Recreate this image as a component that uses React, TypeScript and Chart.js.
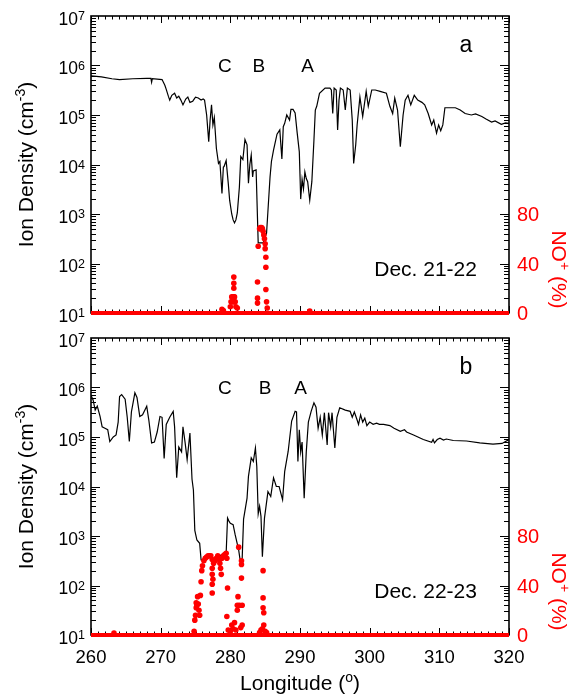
import React, { useEffect, useRef } from "react";
import { Chart, registerables } from "chart.js";

Chart.register(...registerables);

const FONT = "'Liberation Sans', Arial, Helvetica, sans-serif";
const RED = "#ff0000";

// ---------- Panel a : Dec. 21-22 ----------
const lonA = [
  260.0, 261.5, 263.0, 264.1, 266.0, 268.0, 268.6, 268.7, 268.8, 270.2,
  270.6, 270.8, 271.1, 271.3, 271.6, 272.0, 272.3, 272.6, 272.9, 273.2,
  273.6, 273.9, 274.2, 274.6, 275.0, 275.4, 275.8, 276.1, 276.3, 276.6,
  276.9, 277.1, 277.3, 277.5, 277.7, 278.0, 278.3, 278.5, 278.8, 279.0,
  279.1, 279.4, 279.7, 279.9, 280.2, 280.4, 280.6, 280.8, 281.0, 281.3,
  281.5, 281.8, 282.1, 282.4, 282.6, 282.8, 283.0, 283.2, 283.3, 283.7,
  283.8, 284.0, 284.7, 285.2, 285.7, 285.9, 286.2, 286.7, 287.1, 287.4,
  287.6, 287.8, 288.1, 288.5, 288.7, 289.0, 289.3, 289.6, 289.9, 290.1,
  290.3, 290.5, 290.7, 290.9, 291.1, 291.4, 291.7, 292.0, 292.2, 292.4,
  292.8, 293.6, 294.3, 294.5, 294.7, 294.9, 295.2, 295.4, 295.6, 295.8,
  296.2, 296.5, 296.8, 297.2, 297.5, 297.7, 298.0, 298.2, 298.6, 299.0,
  299.5, 299.8, 300.3, 300.8, 301.5, 302.4, 302.9, 303.3, 303.6, 304.0,
  304.4, 304.8, 305.1, 305.5, 305.9, 306.4, 306.9, 307.5, 307.9, 308.4,
  308.9, 309.2, 309.6, 309.9, 310.2, 310.5, 310.8, 312.3, 313.0, 313.7,
  314.6, 315.2, 316.1, 316.7, 317.5, 318.0, 318.9, 319.5, 320.0,
];
const densityA = [
  6.2e5, 5.9e5, 5.4e5, 5.2e5, 5.4e5, 5.5e5, 5.5e5, 4.6e5, 5.4e5, 5.2e5,
  4.0e5, 3.3e5, 2.4e5, 2.0e5, 2.5e5, 2.75e5, 2.2e5, 2.4e5, 2.0e5, 1.6e5,
  2.1e5, 2.3e5, 1.8e5, 1.9e5, 2.3e5, 2.2e5, 2.0e5, 2.1e5, 2.0e5, 1.0e5,
  2.9e4, 7.9e4, 1.6e5, 6.3e4, 8.9e4, 2.1e4, 1.05e4, 1.15e4, 2.6e3, 8.9e3,
  9.1e3, 1.2e4, 4.2e3, 1.9e3, 1.0e3, 7.6e2, 6.6e2, 7.6e2, 1.05e3, 3.5e3,
  1.45e4, 1.26e4, 3.2e4, 2.5e4, 4.2e3, 1.0e4, 1.55e4, 5.6e3, 7.4e3, 7.8e3,
  7.8e3, 2.6e2, 2.6e2, 4.1e2, 5.6e3, 1.15e4, 1.95e4, 4.1e4, 5.0e4, 1.3e4,
  5.8e4, 6.8e4, 1.0e5, 7.9e4, 1.3e5, 1.3e5, 1.1e5, 4.3e4, 1.8e4, 2.0e3,
  5.0e3, 3.2e3, 7.1e3, 5.2e3, 4.5e3, 1.9e3, 4.5e3, 3.1e4, 1.26e5, 1.5e5,
  2.75e5, 3.5e5, 3.5e5, 3.2e5, 1.07e5, 3.5e5, 3.2e5, 5.0e4, 2.0e5, 3.5e5,
  3.2e5, 1.26e5, 3.5e5, 3.2e5, 7.9e4, 1.05e4, 2.5e4, 6.3e4, 2.3e5, 9.3e4,
  3.0e5, 1.5e5, 3.2e5, 3.2e5, 3.0e5, 2.75e5, 1.5e5, 1.07e5, 2.2e5, 1.26e5,
  2.3e4, 1.0e5, 2.0e5, 2.5e5, 1.6e5, 2.5e5, 2.0e5, 1.8e5, 1.6e5, 1.07e5,
  6.3e4, 7.9e4, 4.3e4, 6.3e4, 4.8e4, 6.3e4, 1.4e5, 1.4e5, 1.26e5, 1.07e5,
  1.0e5, 1.05e5, 9.3e4, 8.3e4, 7.2e4, 7.6e4, 6.5e4, 6.9e4, 6.8e4,
];
const noLonA = [
  278.8, 279.0, 280.0, 280.1, 280.2, 280.3, 280.4, 280.5, 280.5, 280.5,
  280.5, 280.6, 280.6, 280.7, 280.8, 281.0, 283.9, 283.9, 283.9, 284.0,
  284.2, 284.3, 284.5, 284.6, 284.7, 284.8, 284.9, 285.0, 285.0, 285.1,
  285.1, 285.1, 285.2, 285.3, 291.4,
];
const noPctA = [
  3, 2, 5, 9, 13, 9, 13, 29, 24, 20,
  13, 9, 13, 9, 5, 4, 8, 12, 25, 54,
  68, 69, 69, 68, 66, 63, 60, 56, 52, 45,
  37, 19, 9, 4, 1.5,
];

// ---------- Panel b : Dec. 22-23 ----------
const lonB = [
  260.0, 260.3, 260.6, 260.9, 261.3, 261.6, 262.0, 262.4, 262.7, 263.2,
  263.6, 263.9, 264.1, 264.4, 264.9, 265.2, 265.5, 265.8, 266.3, 266.6,
  267.0, 267.4, 268.0, 268.3, 268.7, 269.1, 269.5, 269.9, 270.2, 270.5,
  270.8, 271.3, 271.8, 272.0, 272.3, 272.6, 273.0, 273.2, 273.5, 273.8,
  274.2, 274.5, 274.7, 274.9, 275.2, 275.6, 275.8, 276.3, 277.0, 277.5,
  277.8, 278.3, 278.8, 279.4, 279.6, 279.8, 280.0, 280.4, 280.7, 281.2,
  281.4, 281.7, 281.9, 282.4, 282.6, 283.0, 283.3, 283.6, 283.8, 284.0,
  284.2, 284.4, 284.6, 284.9, 285.4, 285.8, 286.2, 286.6, 287.0, 287.5,
  287.8, 288.3, 288.8, 289.3, 289.5, 289.7, 289.9, 290.1, 290.3, 290.6,
  290.9, 291.2, 291.6, 292.0, 292.3, 292.6, 292.9, 293.2, 293.5, 293.9,
  294.1, 294.4, 294.6, 295.0, 295.3, 295.7, 296.5, 297.2, 297.5, 297.8,
  298.2, 298.4, 298.7, 299.0, 299.3, 299.6, 300.0, 300.5, 301.0, 301.4,
  302.0, 302.9, 303.5, 304.4, 305.0, 305.3, 306.3, 307.7, 308.9, 309.1,
  309.3, 309.7, 310.1, 310.6, 311.0, 312.0, 313.9, 315.8, 317.7, 319.0,
  320.0,
];
const densityB = [
  7.0e5, 5.6e5, 3.5e5, 4.2e5, 2.6e5, 1.6e5, 1.5e5, 1.4e5, 8.1e4, 1.0e5,
  1.1e5, 2.0e5, 6.6e5, 7.2e5, 5.8e5, 2.5e5, 8.1e4, 3.2e5, 7.8e5, 6.3e5,
  2.6e5, 2.8e5, 4.2e5, 2.2e5, 7.6e4, 7.9e4, 1.26e5, 2.6e5, 2.5e5, 3.7e4,
  1.8e5, 2.5e5, 3.3e5, 1.6e5, 1.5e4, 6.3e4, 5.0e4, 1.6e5, 7.9e4, 3.5e4,
  1.2e5, 1.4e4, 8.5e3, 1.3e3, 8.3e2, 7.1e2, 3.3e2, 3.3e2, 4.2e2, 3.5e2,
  3.2e2, 3.8e2, 4.2e2, 4.5e2, 2.3e3, 2.0e3, 1.8e3, 1.7e3, 1.05e3, 5.2e2,
  3.3e2, 3.5e2, 2.2e3, 5.8e3, 1.6e4, 3.8e4, 3.2e4, 6.0e4, 2.5e4, 2.8e3,
  4.0e3, 2.5e3, 3.8e2, 2.3e3, 7.9e3, 6.3e3, 1.5e4, 1.0e4, 1.0e4, 5.4e3,
  2.0e4, 5.1e4, 2.1e5, 3.3e5, 3.2e5, 3.2e4, 1.4e5, 5.0e4, 7.9e4, 5.8e3,
  5.0e4, 2.0e5, 3.3e5, 4.9e5, 4.0e5, 1.5e5, 2.5e5, 1.1e5, 3.1e5, 6.9e4,
  3.1e5, 1.6e5, 3.1e5, 6.0e4, 2.5e5, 3.9e5, 3.5e5, 3.3e5, 2.5e5, 3.2e5,
  2.2e5, 1.8e5, 2.8e5, 2.0e5, 2.4e5, 1.7e5, 2.0e5, 1.8e5, 1.9e5, 1.8e5,
  1.8e5, 1.7e5, 1.5e5, 1.3e5, 1.4e5, 1.26e5, 1.1e5, 8.9e4, 7.8e4, 8.9e4,
  7.6e4, 8.9e4, 9.5e4, 8.7e4, 9.1e4, 8.5e4, 8.3e4, 7.6e4, 7.2e4, 7.4e4,
  8.9e4,
];
const noLonB = [
  263.3, 274.8, 274.9, 275.0, 275.1, 275.1, 275.2, 275.3, 275.4, 275.5,
  275.6, 275.7, 275.8, 275.9, 276.0, 276.2, 276.4, 276.6, 276.8, 277.0,
  277.2, 277.4, 277.4, 277.4, 277.5, 277.4, 277.4, 277.6, 277.8, 278.0,
  278.2, 278.4, 278.5, 278.6, 278.7, 278.8, 279.0, 279.2, 279.4, 279.5,
  279.5, 279.6, 279.7, 280.0, 280.2, 280.4, 280.6, 280.8, 281.0, 281.0,
  281.1, 281.2, 281.3, 281.5, 281.6, 281.6, 281.6, 281.7, 281.7, 284.2,
  284.4, 284.6, 284.7, 284.7, 284.7, 284.8, 284.8, 285.0, 285.2,
];
const noPctB = [
  1.5, 3, 12, 16, 22, 26, 24, 31, 25, 20,
  16, 32, 43, 52, 56, 60, 62, 63, 64, 64,
  64, 61, 54, 49, 45, 41, 34, 58, 60, 62,
  64, 61, 58, 54, 49, 62, 64, 65, 66, 62,
  15, 38, 4, 3, 8, 5, 10, 4, 24, 20,
  31, 71, 24, 6, 60, 57, 46, 24, 8, 2,
  4, 5, 52, 30, 22, 18, 8, 3, 2,
];

// ---------- axes / labels ----------
const xTickValues = [260, 270, 280, 290, 300, 310, 320];
const densityTickExponents = [1, 2, 3, 4, 5, 6, 7];
const noTickValues = [0, 40, 80];
const regionNames = ["C", "B", "A"];
const regionLonA = [279.2, 284.1, 291.1];
const regionLonB = [279.2, 285.0, 290.1];
const baselineLon = [260, 320];
const baselinePct = [0, 0];

type Seg = { text: string; size: number; dy: number };

function segWidth(ctx: CanvasRenderingContext2D, segs: Seg[]) {
  let w = 0;
  for (const s of segs) {
    ctx.font = `${s.size}px ${FONT}`;
    w += ctx.measureText(s.text).width;
  }
  return w;
}

function drawRich(
  ctx: CanvasRenderingContext2D,
  segs: Seg[],
  x: number,
  y: number,
  align: "left" | "center" | "right"
) {
  const w = segWidth(ctx, segs);
  let cx = align === "center" ? x - w / 2 : align === "right" ? x - w : x;
  ctx.textAlign = "left";
  ctx.textBaseline = "alphabetic";
  for (const s of segs) {
    ctx.font = `${s.size}px ${FONT}`;
    ctx.fillText(s.text, cx, y + s.dy);
    cx += ctx.measureText(s.text).width;
  }
}

const framePlugin = {
  id: "frame",
  beforeDatasetsDraw(chart: any) {
    const { ctx, chartArea: a, scales } = chart;
    const xs = scales.x;
    const ys = scales.y;
    const y2 = scales.y2;
    ctx.save();
    ctx.strokeStyle = "#000";
    ctx.lineWidth = 1;
    ctx.beginPath();
    for (let v = 260; v <= 320; v += 1) {
      const px = Math.round(xs.getPixelForValue(v)) + 0.5;
      const len = v % 10 === 0 ? 7 : 3.5;
      ctx.moveTo(px, a.bottom);
      ctx.lineTo(px, a.bottom - len);
      ctx.moveTo(px, a.top);
      ctx.lineTo(px, a.top + len);
    }
    for (let d = 1; d < 7; d++) {
      for (let m = 1; m <= 9; m++) {
        const py = Math.round(ys.getPixelForValue(m * Math.pow(10, d))) + 0.5;
        const len = m === 1 ? 9 : 5;
        ctx.moveTo(a.left, py);
        ctx.lineTo(a.left + len, py);
        ctx.moveTo(a.right, py);
        ctx.lineTo(a.right - len, py);
      }
    }
    for (const v of noTickValues) {
      const py = Math.round(y2.getPixelForValue(v)) + 0.5;
      ctx.moveTo(a.right, py);
      ctx.lineTo(a.right - 9, py);
    }
    ctx.stroke();
    ctx.lineWidth = 1.6;
    ctx.strokeRect(a.left, a.top, a.right - a.left, a.bottom - a.top);
    ctx.restore();
  },
};

type Spec = {
  lon: number[];
  dens: number[];
  noLon: number[];
  noPct: number[];
  regionLon: number[];
  letter: string;
  dates: string;
  showX: boolean;
  padTop: number;
  xAxisH: number;
};

function labelPlugin(spec: Spec) {
  return {
    id: "labels",
    afterDraw(chart: any) {
      const { ctx, chartArea: a, scales } = chart;
      const xs = scales.x;
      const ys = scales.y;
      const y2 = scales.y2;
      ctx.save();
      ctx.fillStyle = "#000";
      for (const e of densityTickExponents) {
        const py = ys.getPixelForValue(Math.pow(10, e));
        drawRich(
          ctx,
          [
            { text: "10", size: 17.5, dy: 8.5 },
            { text: String(e), size: 12.5, dy: 4 },
          ],
          a.left - 6,
          py,
          "right"
        );
      }
      ctx.fillStyle = RED;
      ctx.font = `20px ${FONT}`;
      ctx.textAlign = "left";
      ctx.textBaseline = "alphabetic";
      for (const v of noTickValues) {
        const py = y2.getPixelForValue(v);
        ctx.fillText(String(v), a.right + 8, py + 7);
      }
      ctx.save();
      ctx.translate(a.right + 50, (y2.getPixelForValue(0) + y2.getPixelForValue(80)) / 2 + 6);
      ctx.rotate(Math.PI / 2);
      drawRich(
        ctx,
        [
          { text: "NO", size: 21, dy: 0 },
          { text: "+", size: 14, dy: -8 },
          { text: " (%)", size: 21, dy: 0 },
        ],
        0,
        7.5,
        "center"
      );
      ctx.restore();
      ctx.fillStyle = "#000";
      ctx.save();
      ctx.translate(25, (a.top + a.bottom) / 2);
      ctx.rotate(-Math.PI / 2);
      drawRich(
        ctx,
        [
          { text: "Ion Density (cm", size: 21, dy: 0 },
          { text: "-3", size: 14, dy: -8 },
          { text: ")", size: 21, dy: 0 },
        ],
        0,
        7.5,
        "center"
      );
      ctx.restore();
      if (spec.showX) {
        ctx.font = `18.5px ${FONT}`;
        ctx.textAlign = "center";
        ctx.textBaseline = "alphabetic";
        for (const v of xTickValues) {
          ctx.fillText(String(v), xs.getPixelForValue(v), a.bottom + 28);
        }
        drawRich(
          ctx,
          [
            { text: "Longitude (", size: 21, dy: 0 },
            { text: "o", size: 14, dy: -8 },
            { text: ")", size: 21, dy: 0 },
          ],
          (a.left + a.right) / 2,
          a.bottom + 55,
          "center"
        );
      }
      ctx.font = `19px ${FONT}`;
      ctx.textAlign = "center";
      ctx.textBaseline = "middle";
      regionNames.forEach((n, i) => {
        ctx.fillText(n, xs.getPixelForValue(spec.regionLon[i]), a.top + 51);
      });
      ctx.font = `23px ${FONT}`;
      ctx.fillText(spec.letter, xs.getPixelForValue(313.8), a.top + 30);
      ctx.font = `21px ${FONT}`;
      ctx.textAlign = "right";
      ctx.fillText(spec.dates, xs.getPixelForValue(315.4), a.top + 254);
      ctx.restore();
    },
  };
}

function Panel({ spec, top, height }: { spec: Spec; top: number; height: number }) {
  const ref = useRef<HTMLCanvasElement>(null);
  useEffect(() => {
    const canvas = ref.current;
    if (!canvas) return;
    const chart = new Chart(canvas, {
      type: "scatter",
      data: {
        datasets: [
          {
            label: "NO+",
            data: spec.noLon.map((x, i) => ({ x, y: spec.noPct[i] })),
            yAxisID: "y2",
            showLine: false,
            pointRadius: 2.8,
            pointBackgroundColor: RED,
            pointBorderWidth: 0,
            clip: false,
          },
          {
            label: "NO+ baseline",
            data: baselineLon.map((x, i) => ({ x, y: baselinePct[i] })),
            yAxisID: "y2",
            showLine: true,
            borderColor: RED,
            borderWidth: 4,
            pointRadius: 0,
            clip: false,
          },
          {
            label: "Ion density",
            data: spec.lon.map((x, i) => ({ x, y: spec.dens[i] })),
            yAxisID: "y",
            showLine: true,
            borderColor: "#000",
            borderWidth: 1.2,
            pointRadius: 0,
            tension: 0,
          },
        ],
      } as any,
      options: {
        responsive: false,
        animation: false,
        devicePixelRatio: 1,
        events: [],
        layout: { padding: { top: spec.padTop, left: 0, right: 0, bottom: 0 } },
        plugins: { legend: { display: false }, tooltip: { enabled: false } },
        scales: {
          x: {
            type: "linear",
            min: 260,
            max: 320,
            position: "bottom",
            grid: { display: false },
            border: { display: false },
            ticks: { display: false },
            afterFit: (s: any) => {
              s.height = spec.xAxisH;
            },
          },
          y: {
            type: "logarithmic",
            min: 10,
            max: 1e7,
            position: "left",
            grid: { display: false },
            border: { display: false },
            ticks: { display: false },
            afterFit: (s: any) => {
              s.width = 91;
            },
          },
          y2: {
            type: "linear",
            min: 0,
            max: 240,
            position: "right",
            grid: { display: false },
            border: { display: false },
            ticks: { display: false },
            afterFit: (s: any) => {
              s.width = 67;
            },
          },
        },
      } as any,
      plugins: [framePlugin, labelPlugin(spec)],
    });
    return () => chart.destroy();
  }, []);
  return (
    <canvas
      ref={ref}
      width={576}
      height={height}
      style={{ position: "absolute", left: 0, top, width: 576, height, display: "block" }}
    />
  );
}

const specA: Spec = {
  lon: lonA,
  dens: densityA,
  noLon: noLonA,
  noPct: noPctA,
  regionLon: regionLonA,
  letter: "a",
  dates: "Dec. 21-22",
  showX: false,
  padTop: 16,
  xAxisH: 17,
};

const specB: Spec = {
  lon: lonB,
  dens: densityB,
  noLon: noLonB,
  noPct: noPctB,
  regionLon: regionLonB,
  letter: "b",
  dates: "Dec. 22-23",
  showX: true,
  padTop: 8,
  xAxisH: 63,
};

export default function App() {
  return (
    <div style={{ position: "absolute", left: 0, top: 0, width: 576, height: 698, background: "#fff" }}>
      <Panel spec={specA} top={0} height={330} />
      <Panel spec={specB} top={330} height={368} />
    </div>
  );
}
